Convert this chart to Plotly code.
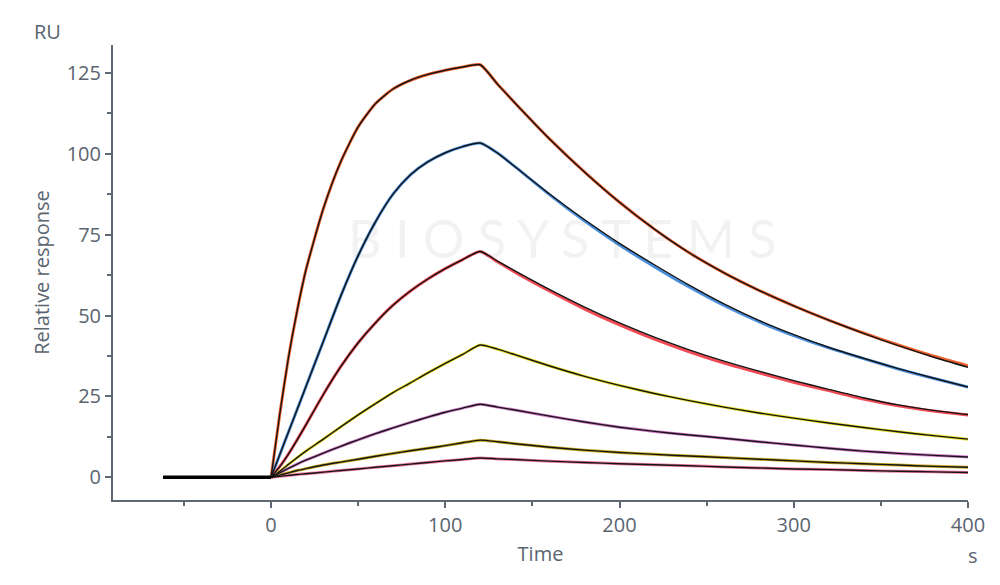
import plotly.graph_objects as go

# ---------------- data ----------------
time_s = [0, 5, 10, 15, 20, 30, 40, 50, 60, 70, 80, 90, 100, 110, 120,
          130, 140, 160, 180, 200, 220, 240, 260, 280, 300, 320, 340, 360, 380, 400]

baseline_t = [-62, 0]
baseline_v = [0, 0]

# measured responses (coloured curves)
resp_1 = [0, 19.5, 37, 51.5, 64, 83, 97.5, 108.3, 115.5, 120, 122.7, 124.5, 125.8, 126.8, 127.5,
          121.5, 115.7, 104.5, 94.3, 85, 76.7, 69.4, 63.2, 57.8, 53, 48.6, 44.6, 40.9, 37.5, 34.5]
resp_2 = [0, 7, 14, 21, 28, 42, 56, 68.5, 79, 87.5, 93.5, 97.5, 100.3, 102.2, 103.3,
          100.2, 96, 87.3, 79.2, 71.8, 65.1, 58.8, 53.1, 48.1, 43.8, 40.0, 36.7, 33.5, 30.6, 27.9]
resp_3 = [0, 3.3, 7.2, 11.6, 16.2, 25.6, 34.2, 41.6, 47.8, 53.2, 57.6, 61.3, 64.5, 67.3, 69.8,
          66.6, 63.4, 57.5, 52.0, 47.1, 42.7, 38.8, 35.3, 32.3, 29.4, 26.8, 24.2, 22.1, 20.5, 19.3]
resp_4 = [0, 1.9, 4, 6.1, 8.1, 11.8, 15.6, 19.3, 22.8, 26.2, 29.2, 32.3, 35.2, 38, 40.9,
          39.6, 37.9, 34.4, 31.2, 28.4, 25.9, 23.7, 21.7, 19.9, 18.3, 16.8, 15.4, 14.1, 12.9, 11.8]
resp_5 = [0, 1.4, 2.8, 4.1, 5.3, 7.5, 9.6, 11.6, 13.5, 15.3, 17, 18.6, 20.1, 21.4, 22.6,
          21.7, 20.8, 18.9, 17.1, 15.5, 14.2, 13.1, 12.1, 11.0, 10.0, 9.0, 8.1, 7.4, 6.8, 6.3]
resp_6 = [0, 0.7, 1.4, 2.1, 2.7, 3.8, 4.7, 5.6, 6.5, 7.4, 8.2, 9, 9.8, 10.7, 11.5,
          11, 10.4, 9.3, 8.4, 7.7, 7.1, 6.6, 6.1, 5.6, 5.1, 4.6, 4.2, 3.8, 3.4, 3.1]
resp_7 = [0, 0.3, 0.6, 0.9, 1.1, 1.6, 2.1, 2.6, 3.1, 3.6, 4.1, 4.6, 5.1, 5.5, 6.0,
          5.7, 5.5, 5.0, 4.6, 4.2, 3.9, 3.6, 3.2, 2.9, 2.6, 2.4, 2.1, 1.9, 1.7, 1.5]

# fitted responses (black curves)
fit_1 = [0, 19.5, 37, 51.5, 64, 83, 97.5, 108.3, 115.5, 120, 122.7, 124.5, 125.8, 126.8, 127.5,
         121.5, 115.7, 104.5, 94.3, 85, 76.7, 69.4, 63.2, 57.8, 53, 48.6, 44.5, 40.7, 37.2, 34.0]
fit_2 = [0, 7, 14, 21, 28, 42, 56, 68.5, 79, 87.5, 93.5, 97.5, 100.3, 102.2, 103.3,
         100.2, 96, 87.5, 79.6, 72.3, 65.7, 59.4, 53.6, 48.5, 44.1, 40.2, 36.8, 33.6, 30.7, 27.9]
fit_3 = [0, 3.3, 7.2, 11.6, 16.2, 25.6, 34.2, 41.6, 47.8, 53.2, 57.6, 61.3, 64.5, 67.3, 69.8,
         66.8, 63.8, 58, 52.6, 47.7, 43.3, 39.4, 35.9, 32.8, 29.9, 27.2, 24.6, 22.4, 20.7, 19.4]
fit_4 = resp_4
fit_5 = resp_5
fit_6 = resp_6
fit_7 = resp_7

series = [resp_1, resp_2, resp_3, resp_4, resp_5, resp_6, resp_7]
fits = [fit_1, fit_2, fit_3, fit_4, fit_5, fit_6, fit_7]
colors = ["#f0602c", "#4b8fdc", "#f24a55", "#e9df2c", "#d47ccc", "#c9aa22", "#ee78a4"]

x_ticks = [0, 100, 200, 300, 400]
x_minor = [-50, 50, 150, 250, 350]
y_ticks = [0, 25, 50, 75, 100, 125]
y_minor = [12.5, 37.5, 62.5, 87.5, 112.5]

axis_col = "#5d6874"
text_col = "#5a6470"
font_fam = "Open Sans, Noto Sans, DejaVu Sans, sans-serif"
fs = 20

fig = go.Figure()

# measured (coloured) curves
for vals, col in zip(series, colors):
    fig.add_trace(go.Scatter(x=time_s, y=vals, mode="lines",
                             line=dict(color=col, width=3.0, shape="spline", smoothing=0.6),
                             hoverinfo="skip", showlegend=False))

# fitted (black) curves
for vals in fits:
    fig.add_trace(go.Scatter(x=time_s, y=vals, mode="lines",
                             line=dict(color="#151515", width=1.4, shape="spline", smoothing=0.6),
                             hoverinfo="skip", showlegend=False))

# baseline
fig.add_trace(go.Scatter(x=baseline_t, y=baseline_v, mode="lines",
                         line=dict(color="#000000", width=3.5),
                         hoverinfo="skip", showlegend=False))

fig.update_layout(
    width=1000, height=585,
    margin=dict(l=105, r=40, t=37, b=93, autoexpand=False),
    paper_bgcolor="white", plot_bgcolor="white",
    font=dict(family=font_fam, color=text_col, size=fs),
    xaxis=dict(range=[-90.7, 400], tickvals=x_ticks, ticktext=[str(v) for v in x_ticks],
               showgrid=False, zeroline=False, showline=True, linecolor=axis_col, linewidth=2,
               ticks="outside", ticklen=6, tickwidth=1.5, tickcolor=axis_col,
               minor=dict(ticks="outside", ticklen=4, tickwidth=1.5, tickcolor=axis_col,
                          tickvals=x_minor),
               tickfont=dict(size=fs, color=text_col), automargin=False,
               title=dict(text="Time", font=dict(size=fs, color=text_col), standoff=10)),
    yaxis=dict(range=[-7, 133.6], tickvals=y_ticks, ticktext=[str(v) for v in y_ticks],
               showgrid=False, zeroline=False, showline=True, linecolor=axis_col, linewidth=2,
               ticks="outside", ticklen=6, tickwidth=1.5, tickcolor=axis_col,
               minor=dict(ticks="outside", ticklen=4, tickwidth=1.5, tickcolor=axis_col,
                          tickvals=y_minor),
               tickfont=dict(size=fs, color=text_col), automargin=False,
               title=dict(text="Relative response", font=dict(size=fs, color=text_col), standoff=12)),
    annotations=[
        dict(text="RU", xref="paper", yref="paper", x=-0.077, y=1.029, xanchor="center",
             yanchor="middle", showarrow=False, font=dict(size=fs, color=text_col)),
        dict(text="s", xref="paper", yref="paper", x=1.006, y=-0.123, xanchor="center",
             yanchor="middle", showarrow=False, font=dict(size=fs, color=text_col)),
        dict(text="B I O S Y S T E M S", xref="paper", yref="paper", x=0.526, y=0.576,
             xanchor="center", yanchor="middle", showarrow=False,
             font=dict(size=52, color="rgba(0,0,0,0.05)", family="Lato, sans-serif")),
    ],
)

fig.write_html("out.html")
